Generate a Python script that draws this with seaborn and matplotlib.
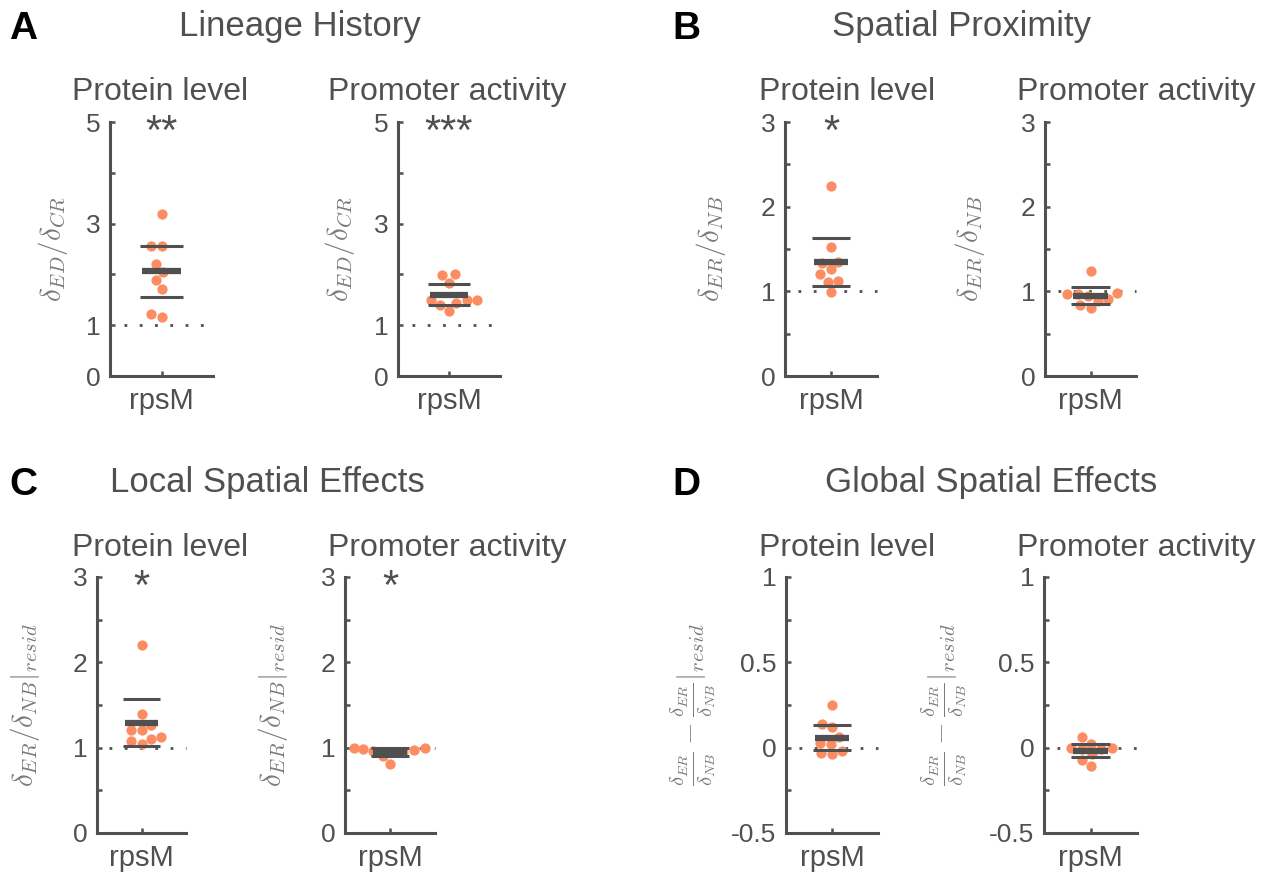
import numpy as np
import matplotlib
matplotlib.use("Agg")
import matplotlib.pyplot as plt
import seaborn as sns

# values (9 replicates each)
gene = "rpsM"
lineage_protein = [3.18, 2.56, 2.56, 2.20, 2.04, 1.89, 1.72, 1.23, 1.17]
lineage_promoter = [2.00, 1.99, 1.83, 1.49, 1.49, 1.49, 1.43, 1.40, 1.28]
proximity_protein = [2.24, 1.52, 1.35, 1.33, 1.26, 1.20, 1.12, 1.11, 0.995]
proximity_promoter = [1.24, 0.98, 0.97, 0.97, 0.95, 0.91, 0.89, 0.84, 0.80]
local_protein = [2.20, 1.39, 1.26, 1.21, 1.21, 1.13, 1.10, 1.08, 1.04]
local_promoter = [1.00, 1.00, 0.99, 0.97, 0.96, 0.95, 0.95, 0.90, 0.81]
global_protein = [0.25, 0.14, 0.12, 0.06, 0.03, 0.02, -0.02, -0.03, -0.04]
global_promoter = [0.06, 0.02, 0.00, 0.00, -0.01, -0.01, -0.04, -0.07, -0.11]

stars = {"lin_prot": "**", "lin_prom": "***", "prox_prot": "*",
         "loc_prot": "*", "loc_prom": "*"}

T_CRIT = 2.306  # t(0.975, df=8)

ORANGE = "#FC8D62"
DARK = "#505050"
LGRAY = "#7a7a7a"

sns.set_style("ticks")
plt.rcParams["font.family"] = ["Liberation Sans", "DejaVu Sans"]
plt.rcParams["mathtext.fontset"] = "cm"

W, H = 1267, 883
fig = plt.figure(figsize=(W / 100, H / 100), dpi=100)


def px_axes(left, right, top, bottom):
    return fig.add_axes([left / W, 1 - bottom / H, (right - left) / W, (bottom - top) / H])


lab_ratio = r"$\delta_{ER}/\delta_{NB}$"
lab_resid = r"$\delta_{ER}/\delta_{NB}|_{resid}$"
lab_diff = r"$\frac{\delta_{ER}}{\delta_{NB}} - \frac{\delta_{ER}}{\delta_{NB}}|_{resid}$"
lab_lin = r"$\delta_{ED}/\delta_{CR}$"

ticks_a = [0, 1, 2, 3, 4, 5]
ticklab_a = ["0", "1", "", "3", "", "5"]
ticks_b = [0, 0.5, 1, 1.5, 2, 2.5, 3]
ticklab_b = ["0", "", "1", "", "2", "", "3"]
ticks_d = [-0.5, -0.25, 0, 0.25, 0.5, 0.75, 1]
ticklab_d = ["-0.5", "", "0", "", "0.5", "", "1"]

panels = [
    # data, box(px), ylim, ticks, labels, ref, ylabel, ylabel x(px), star key
    (lineage_protein, (110, 213, 122, 376), (0, 5), ticks_a, ticklab_a, 1, lab_lin, 53, "lin_prot"),
    (lineage_promoter, (398, 500, 122, 376), (0, 5), ticks_a, ticklab_a, 1, lab_lin, 340, "lin_prom"),
    (proximity_protein, (785, 877, 122, 376), (0, 3), ticks_b, ticklab_b, 1, lab_ratio, 711, "prox_prot"),
    (proximity_promoter, (1045, 1136, 122, 376), (0, 3), ticks_b, ticklab_b, 1, lab_ratio, 970, None),
    (local_protein, (97, 186, 577, 833), (0, 3), ticks_b, ticklab_b, 1, lab_resid, 25, "loc_prot"),
    (local_promoter, (345, 435, 577, 833), (0, 3), ticks_b, ticklab_b, 1, lab_resid, 273, "loc_prom"),
    (global_protein, (786, 878, 577, 833), (-0.5, 1), ticks_d, ticklab_d, 0, lab_diff, 693, None),
    (global_promoter, (1044, 1137, 577, 833), (-0.5, 1), ticks_d, ticklab_d, 0, lab_diff, 944, None),
]

for vals, box, ylim, ticks, tlabs, ref, ylab, ylx, skey in panels:
    ax = px_axes(*box)
    vals = np.asarray(vals)
    ax.plot([-0.36, 0.5], [ref, ref], ls=(0, (1, 4.5)), lw=2, color=DARK,
            zorder=1, clip_on=False)
    sns.swarmplot(x=[gene] * len(vals), y=vals, ax=ax, color=ORANGE, size=7.4,
                  zorder=2)
    m = vals.mean()
    ci = T_CRIT * vals.std(ddof=1) / np.sqrt(len(vals))
    ax.hlines(m, -0.19, 0.19, color=DARK, lw=4.5, zorder=3)
    ax.hlines([m - ci, m + ci], -0.21, 0.21, color=DARK, lw=2.2, zorder=3)

    ax.set_xlim(-0.5, 0.5)
    ax.set_ylim(*ylim)
    ax.set_yticks(ticks)
    ax.set_yticklabels(tlabs)
    ax.set_ylabel("")
    for s in ("top", "right"):
        ax.spines[s].set_visible(False)
    for s in ("left", "bottom"):
        ax.spines[s].set_color(DARK)
        ax.spines[s].set_linewidth(2.2)
    ax.tick_params(axis="both", direction="in", length=3.5, width=1.8, color=DARK,
                   labelcolor=DARK, labelsize=19)
    ax.tick_params(axis="y", pad=7)
    ax.tick_params(axis="x", pad=8, labelsize=21)

    cy = (box[2] + box[3]) / 2
    fig.text(ylx / W, 1 - cy / H, ylab, rotation=90, ha="center", va="center",
             fontsize=21, color=LGRAY)
    if skey:
        ax.annotate(stars[skey], xy=(0, ylim[1]), xytext=(0, -15.5),
                    textcoords="offset points", ha="center", va="baseline",
                    fontsize=30, color=DARK, annotation_clip=False)

# panel titles (baseline positions)
for txt, xx, yy in (("Lineage History", 300, 36), ("Spatial Proximity", 961, 36),
                    ("Local Spatial Effects", 267, 492), ("Global Spatial Effects", 991, 492)):
    fig.text(xx / W, 1 - yy / H, txt, ha="center", va="baseline", fontsize=25, color=DARK)

for yy in (100, 556):
    for xp, xq in ((160, 447), (847, 1136)):
        fig.text(xp / W, 1 - yy / H, "Protein level", ha="center", va="baseline", fontsize=23, color=DARK)
        fig.text(xq / W, 1 - yy / H, "Promoter activity", ha="center", va="baseline", fontsize=23, color=DARK)

for letter, xx, yy in (("A", 23, 39), ("B", 686, 39), ("C", 23, 495), ("D", 686, 495)):
    fig.text(xx / W, 1 - yy / H, letter, ha="center", va="baseline", fontsize=28,
             fontweight="bold", color="black")

fig.savefig("out.png", dpi=100)
